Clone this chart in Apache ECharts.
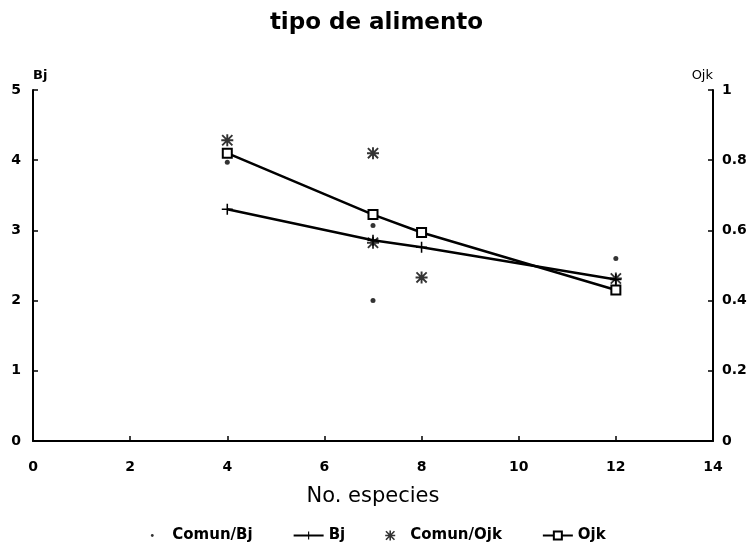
<!DOCTYPE html>
<html>
<head>
<meta charset="utf-8">
<script src="https://cdn.jsdelivr.net/npm/echarts@6/dist/echarts.min.js"></script>
<style>
  html, body { margin: 0; padding: 0; background: #fff; }
  #chart { width: 753px; height: 556px; }
</style>
</head>
<body>
<div id="chart"></div>
<script>
// datos
var xTicks = [0, 2, 4, 6, 8, 10, 12, 14];
var bjTicks = [0, 1, 2, 3, 4, 5];
var ojkTicks = [0, 0.2, 0.4, 0.6, 0.8, 1];

var comunBj = [[4, 3.97], [7, 3.07], [7, 2.0], [12, 2.6]];
var bjLine = [[4, 3.3], [7, 2.86], [8, 2.76], [12, 2.3]];
var comunOjk = [[4, 0.857], [7, 0.82], [7, 0.565], [8, 0.466], [12, 0.463]];
var ojkLine = [[4, 0.82], [7, 0.645], [8, 0.594], [12, 0.43]];

var plusPath = 'path://M4.3,0h1.4v10h-1.4zM0,4.3h10v1.4h-10z';
var starPath = 'path://M4.2,0h1.6v10h-1.6zM0,4.2h10v1.6h-10zM1.3,0.2L9.8,8.7L8.7,9.8L0.2,1.3zM8.7,0.2L9.8,1.3L1.3,9.8L0.2,8.7z';
// punto pequeño para la leyenda (los M extienden la caja)
var dotIcon = 'path://M0,0M10,10M5,3.6a1.4,1.4 0 1,0 0.01,0z';

var font = '"DejaVu Sans", sans-serif';
var chart = echarts.init(document.getElementById('chart'));

var option = {
    animation: false,
    backgroundColor: '#fff',
    title: {
        text: 'tipo de alimento',
        left: 'center',
        top: 7,
        textStyle: { fontFamily: font, fontSize: 23, fontWeight: 'bold', color: '#000' }
    },
    grid: { left: 33, right: 40, top: 90, bottom: 115 },
    legend: {
        bottom: 8,
        left: 'center',
        itemGap: 40,
        itemWidth: 30,
        itemHeight: 10,
        textStyle: { fontFamily: font, fontSize: 15, fontWeight: 'bold', color: '#000' },
        data: [{ name: 'Comun/Bj', icon: dotIcon }, 'Bj', 'Comun/Ojk', 'Ojk']
    },
    xAxis: {
        type: 'value',
        min: 0, max: 14, interval: 2,
        name: 'No. especies',
        nameLocation: 'middle',
        nameGap: 45,
        nameTextStyle: { fontFamily: font, fontSize: 21, color: '#000' },
        axisLine: { onZero: false, lineStyle: { color: '#000', width: 2 } },
        axisTick: { inside: true, length: 5, lineStyle: { color: '#000', width: 1.5 } },
        axisLabel: { fontFamily: font, fontSize: 14, fontWeight: 'bold', color: '#000', margin: 19,
            formatter: function (v) { return xTicks.indexOf(v) >= 0 ? String(v) : ''; } },
        splitLine: { show: false }
    },
    yAxis: [{
        type: 'value',
        min: 0, max: 5, interval: 1,
        name: 'Bj',
        nameGap: 8,
        nameTextStyle: { fontFamily: font, fontSize: 13, fontWeight: 'bold', color: '#000', align: 'left' },
        axisLine: { show: true, lineStyle: { color: '#000', width: 2 } },
        axisTick: { show: true, inside: true, length: 5, lineStyle: { color: '#000', width: 1.5 } },
        axisLabel: { fontFamily: font, fontSize: 14, fontWeight: 'bold', color: '#000', margin: 12,
            formatter: function (v) { return bjTicks.indexOf(v) >= 0 ? String(v) : ''; } },
        splitLine: { show: false }
    }, {
        type: 'value',
        min: 0, max: 1, interval: 0.2,
        name: 'Ojk',
        nameGap: 8,
        nameTextStyle: { fontFamily: font, fontSize: 13, color: '#000', align: 'right' },
        axisLine: { show: true, lineStyle: { color: '#000', width: 2 } },
        axisTick: { show: true, inside: true, length: 5, lineStyle: { color: '#000', width: 1.5 } },
        axisLabel: { fontFamily: font, fontSize: 14, fontWeight: 'bold', color: '#000', margin: 9,
            formatter: function (v) {
                for (var i = 0; i < ojkTicks.length; i++) {
                    if (Math.abs(ojkTicks[i] - v) < 1e-6) return String(ojkTicks[i]);
                }
                return '';
            } },
        splitLine: { show: false }
    }],
    series: [{
        name: 'Comun/Bj',
        type: 'scatter',
        yAxisIndex: 0,
        symbol: 'circle',
        symbolSize: 5,
        itemStyle: { color: '#000' },
        data: comunBj
    }, {
        name: 'Bj',
        type: 'line',
        yAxisIndex: 0,
        symbol: plusPath,
        symbolSize: 11,
        showAllSymbol: true,
        lineStyle: { color: '#000', width: 2.5 },
        itemStyle: { color: '#000' },
        data: bjLine
    }, {
        name: 'Comun/Ojk',
        type: 'scatter',
        yAxisIndex: 1,
        symbol: starPath,
        symbolSize: 12,
        itemStyle: { color: '#000' },
        data: comunOjk
    }, {
        name: 'Ojk',
        type: 'line',
        yAxisIndex: 1,
        symbol: 'rect',
        symbolSize: 9,
        showAllSymbol: true,
        lineStyle: { color: '#000', width: 2.5 },
        itemStyle: { color: '#fff', borderColor: '#000', borderWidth: 2 },
        data: ojkLine
    }]
};
chart.setOption(option);
</script>
</body>
</html>
